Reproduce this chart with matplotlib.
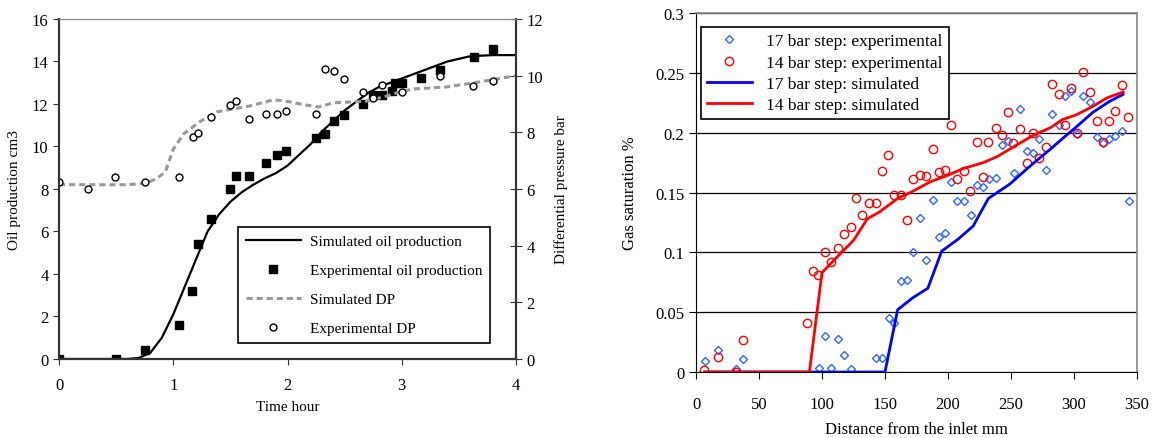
import matplotlib
matplotlib.use("Agg")
import matplotlib.pyplot as plt
from matplotlib.lines import Line2D

plt.rcParams['font.family'] = ['Liberation Serif', 'DejaVu Serif']

#%% left panel data: oil production (cm3) and differential pressure (bar) vs time (hour)
t_exp_oil = [0, 0.5, 0.75, 1.05, 1.16, 1.22, 1.33, 1.50, 1.55, 1.66, 1.81, 1.91, 1.99,
             2.25, 2.33, 2.41, 2.49, 2.66, 2.75, 2.83, 2.91, 2.94, 3.0, 3.17, 3.33, 3.63, 3.80]
oil_exp = [0, 0, 0.4, 1.6, 3.2, 5.4, 6.6, 8.0, 8.6, 8.6, 9.2, 9.6, 9.8,
           10.4, 10.6, 11.2, 11.5, 12.0, 12.4, 12.4, 12.6, 13.0, 13.0, 13.2, 13.6, 14.2, 14.6]

t_sim_oil = [0, 0.6, 0.7, 0.8, 0.9, 1.0, 1.1, 1.2, 1.3, 1.4, 1.5, 1.6, 1.7, 1.8, 1.9, 2.0,
             2.1, 2.2, 2.3, 2.4, 2.5, 2.6, 2.7, 2.8, 2.9, 3.0, 3.2, 3.4, 3.6, 3.8, 4.0]
oil_sim = [0, 0, 0.05, 0.3, 1.0, 2.1, 3.4, 4.7, 6.0, 6.8, 7.4, 7.85, 8.2, 8.5, 8.75, 9.1,
           9.6, 10.1, 10.7, 11.2, 11.7, 12.1, 12.5, 12.8, 13.0, 13.2, 13.6, 14.0, 14.25, 14.3, 14.3]

t_exp_dp = [0, 0.25, 0.49, 0.75, 1.05, 1.17, 1.22, 1.33, 1.50, 1.55, 1.66, 1.81, 1.91, 1.99,
            2.25, 2.33, 2.41, 2.49, 2.66, 2.75, 2.83, 3.0, 3.33, 3.62, 3.80]
dp_exp = [6.25, 6.0, 6.42, 6.25, 6.42, 7.84, 7.98, 8.54, 8.97, 9.11, 8.47, 8.65, 8.65, 8.75,
          8.65, 10.24, 10.17, 9.88, 9.42, 9.21, 9.67, 9.42, 9.99, 9.64, 9.81]

t_sim_dp = [0, 0.3, 0.6, 0.75, 0.85, 0.93, 1.0, 1.09, 1.23, 1.38, 1.52, 1.67, 1.87, 1.96,
            2.11, 2.27, 2.40, 2.55, 2.69, 2.84, 2.98, 3.1, 3.39, 3.68, 4.0]
dp_sim = [6.15, 6.15, 6.15, 6.2, 6.35, 6.6, 7.4, 7.94, 8.37, 8.72, 8.82, 8.93, 9.14, 9.12,
          9.0, 8.89, 9.04, 9.07, 9.1, 9.25, 9.42, 9.53, 9.6, 9.78, 10.0]

#%% right panel data: gas saturation vs distance from inlet (mm)
d17_exp = [7.1, 17.5, 31.7, 37.3, 97.6, 102, 107, 112.7, 117.5, 123, 142.9, 147.6, 153, 157,
           162.7, 167.5, 172, 177.8, 182.5, 188, 193, 197.6, 202.4, 207, 212.7, 218, 223, 227.8,
           232.5, 238, 242.9, 247.6, 252.4, 257, 262.7, 267.5, 272, 277.8, 282.5, 288, 292.9,
           297.6, 302.4, 307, 312.7, 318, 323, 327.8, 332.5, 338, 343.7]
s17_exp = [0.009, 0.018, 0.0025, 0.011, 0.003, 0.030, 0.003, 0.028, 0.014, 0.0025, 0.012, 0.012,
           0.045, 0.041, 0.076, 0.077, 0.100, 0.129, 0.094, 0.144, 0.113, 0.116, 0.159, 0.143,
           0.143, 0.131, 0.156, 0.155, 0.161, 0.162, 0.190, 0.193, 0.166, 0.220, 0.185, 0.183,
           0.195, 0.169, 0.216, 0.206, 0.231, 0.235, 0.199, 0.231, 0.226, 0.196, 0.191, 0.195,
           0.197, 0.201, 0.143]

d14_exp = [6.6, 17.5, 31.7, 37.3, 88, 92.6, 96.8, 102, 107, 112.7, 117.5, 123, 127, 131.7, 137,
           142.8, 147.6, 152, 157, 162.7, 167.5, 172, 177.8, 182.5, 188, 193, 197.6, 202.4, 207,
           212.7, 217.5, 223, 227.8, 232, 238, 242.5, 247.6, 251.6, 257, 262.7, 267.5, 272,
           277.8, 282.5, 288, 292.9, 297.6, 302.4, 307, 312.7, 318, 323, 327.8, 332.5, 338, 342.9]
s14_exp = [0.002, 0.0125, 0.0, 0.027, 0.041, 0.084, 0.081, 0.100, 0.092, 0.104, 0.115, 0.121,
           0.145, 0.131, 0.141, 0.141, 0.168, 0.181, 0.148, 0.148, 0.127, 0.161, 0.165, 0.164,
           0.186, 0.167, 0.169, 0.206, 0.161, 0.168, 0.151, 0.192, 0.163, 0.192, 0.204, 0.198,
           0.217, 0.191, 0.203, 0.175, 0.200, 0.179, 0.188, 0.241, 0.232, 0.206, 0.237, 0.200,
           0.251, 0.234, 0.210, 0.192, 0.210, 0.218, 0.240, 0.213]

d17_sim = [7, 150, 160, 172, 184, 195, 208, 220, 232, 249, 265, 281, 293, 302, 315, 328, 339]
s17_sim = [0, 0, 0.052, 0.062, 0.070, 0.101, 0.111, 0.122, 0.145, 0.157, 0.172, 0.186, 0.197,
           0.205, 0.217, 0.226, 0.232]

d14_sim = [7, 90, 100, 110, 125, 136, 146, 160, 172, 186, 199, 212, 228, 239, 255, 268, 281,
           291, 302, 315, 326, 339]
s14_sim = [0, 0, 0.083, 0.094, 0.110, 0.128, 0.134, 0.145, 0.151, 0.159, 0.164, 0.170, 0.175,
           0.180, 0.190, 0.198, 0.204, 0.211, 0.215, 0.222, 0.229, 0.234]

#%% figure
fig = plt.figure(figsize=(11.55, 4.39), dpi=100)

ax = fig.add_axes([0.0511, 0.180, 0.3957, 0.7745])
ax2 = ax.twinx()

ax.plot(t_sim_oil, oil_sim, color='black', lw=1.6)
ax.plot(t_exp_oil, oil_exp, ls='none', marker='s', ms=5.5, color='black')
ax2.plot(t_sim_dp, dp_sim, color='#999999', lw=2.2, ls=(0, (2, 1.3)))
ax2.plot(t_exp_dp, dp_exp, ls='none', marker='o', ms=5, mfc='white', mec='black', mew=1)

ax.set_xlim(0, 4)
ax.set_ylim(0, 16)
ax2.set_ylim(0, 12)
ax.set_xticks([0, 1, 2, 3, 4])
ax.set_yticks(range(0, 17, 2))
ax2.set_yticks(range(0, 13, 2))
ax.tick_params(labelsize=12, direction='out', length=4, colors='#333333', labelcolor='black')
ax.tick_params(axis='x', pad=9)
ax2.tick_params(labelsize=12, direction='inout', length=8, colors='#333333', labelcolor='black')
ax.set_xlabel('Time hour', fontsize=11, labelpad=5)
ax.set_ylabel('Oil production cm3', fontsize=11, labelpad=8)
ax2.set_ylabel('Differential pressure bar', fontsize=11, labelpad=8)
for a in (ax, ax2):
    a.spines['top'].set_color('#888888')
    a.spines['left'].set_color('#333333')
    a.spines['right'].set_color('#333333')
    a.spines['bottom'].set_color('#333333')
    a.spines['left'].set_linewidth(1.5)
    a.spines['right'].set_linewidth(1.5)
    a.spines['bottom'].set_linewidth(1.5)

handles = [Line2D([], [], color='black', lw=1.6),
           Line2D([], [], ls='none', marker='s', ms=5.5, color='black'),
           Line2D([], [], color='#999999', lw=2.2, ls=(0, (2, 1.3))),
           Line2D([], [], ls='none', marker='o', ms=5, mfc='white', mec='black')]
labels = ['Simulated oil production', 'Experimental oil production',
          'Simulated DP', 'Experimental DP']
leg = ax2.legend(handles, labels, loc='lower left', bbox_to_anchor=(0.392, 0.047),
                 borderaxespad=0, fontsize=11, fancybox=False, edgecolor='black',
                 framealpha=1, handlelength=3.6, handletextpad=0.6,
                 labelspacing=1.0, borderpad=0.5)
leg.get_frame().set_linewidth(1.2)

#%% right panel
bx = fig.add_axes([0.6026, 0.1503, 0.3818, 0.8178])
bx.yaxis.grid(True, color='black', lw=0.9)
bx.set_axisbelow(True)
bx.plot(d17_exp, s17_exp, ls='none', marker='D', ms=4.5, mfc='none', mec='#3366FF', mew=1)
bx.plot(d14_exp, s14_exp, ls='none', marker='o', ms=6, mfc='none', mec='#FF0000', mew=1)
bx.plot(d17_sim, s17_sim, color='#0000FF', lw=2)
bx.plot(d14_sim, s14_sim, color='#FF0000', lw=2)

bx.set_xlim(0, 350)
bx.set_ylim(0, 0.3)
bx.set_xticks(range(0, 351, 50))
bx.set_yticks([0, 0.05, 0.1, 0.15, 0.2, 0.25, 0.3])
bx.set_yticklabels(['0', '0.05', '0.1', '0.15', '0.2', '0.25', '0.3'])
bx.tick_params(labelsize=12, direction='out', length=5, colors='black')
bx.tick_params(axis='x', pad=12)
bx.set_xlabel('Distance from the inlet mm', fontsize=12, labelpad=7)
bx.set_ylabel('Gas saturation %', fontsize=12, labelpad=12)
bx.spines['top'].set_color('#888888')
bx.spines['right'].set_color('#888888')
bx.spines['top'].set_linewidth(1.2)
bx.spines['right'].set_linewidth(1.2)

bleg = bx.legend(['17 bar step: experimental', '14 bar step: experimental',
                  '17 bar step: simulated', '14 bar step: simulated'],
                 loc='upper left', bbox_to_anchor=(0.011, 0.961), borderaxespad=0,
                 fontsize=12.5, fancybox=False, edgecolor='black', framealpha=1,
                 handlelength=2.6, labelspacing=0.3, borderpad=0.35)
bleg.get_frame().set_linewidth(1.2)

fig.savefig('out.png', dpi=100)
